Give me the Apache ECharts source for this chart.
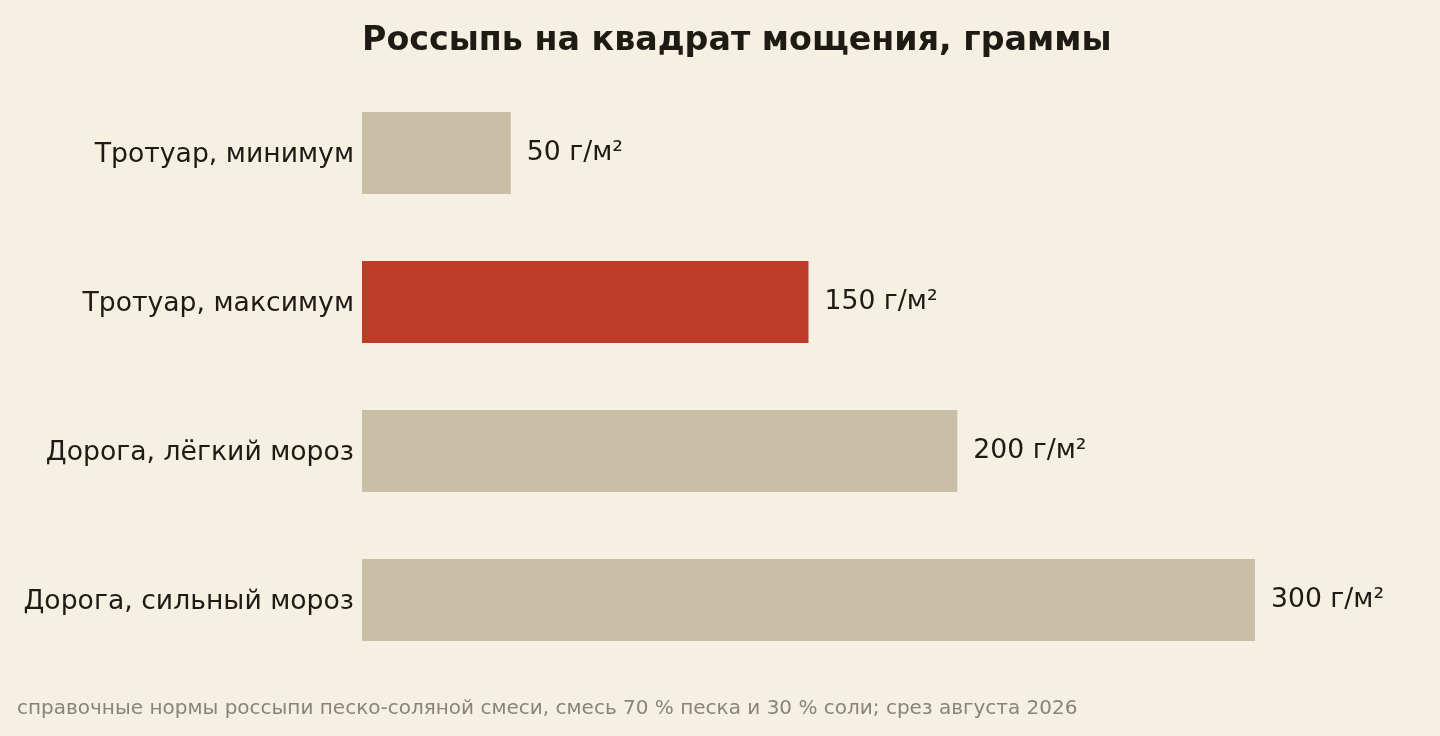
<!DOCTYPE html>
<html><head><meta charset="utf-8">
<script src="https://cdn.jsdelivr.net/npm/echarts@6/dist/echarts.min.js"></script>
<style>html,body{margin:0;padding:0;background:#f6f0e3;}#c{width:1440px;height:736px;}</style>
</head><body><div id="c"></div>
<script>
const categories = ["Тротуар, минимум", "Тротуар, максимум", "Дорога, лёгкий мороз", "Дорога, сильный мороз"];
const values = [50, 150, 200, 300];
const highlight = [false, true, false, false];
const unit = " г/м²";
const titleText = "Россыпь на квадрат мощения, граммы";
const footnote = "справочные нормы россыпи песко-соляной смеси, смесь 70 % песка и 30 % соли; срез августа 2026";

const chart = echarts.init(document.getElementById('c'));
chart.setOption({
  backgroundColor: '#f6f0e3',
  animation: false,
  title: [{
    text: titleText, left: 357, top: 20,
    textStyle: {fontFamily: 'DejaVu Sans', fontWeight: 'bold', fontSize: 33.3, color: '#1e1a14'}
  }, {
    text: footnote, left: 12, top: 694,
    textStyle: {fontFamily: 'DejaVu Sans', fontWeight: 'normal', fontSize: 20, color: '#8a8478'}
  }],
  grid: {left: 362, right: 185, top: 78.5, height: 596, containLabel: false},
  xAxis: {type: 'value', min: 0, max: 300, show: false},
  yAxis: {
    type: 'category', data: categories, inverse: true,
    axisLine: {show: false}, axisTick: {show: false}, splitLine: {show: false},
    axisLabel: {
      margin: 8,
      formatter: v => '{c|' + v + '}',
      rich: {c: {fontFamily: 'DejaVu Sans', fontSize: 26.67, color: '#1e1a14', padding: [5, 0, 0, 0]}}
    }
  },
  series: [{
    type: 'bar', barWidth: 82,
    data: values.map((v, i) => ({value: v, itemStyle: {color: highlight[i] ? '#bd3c27' : '#c9bfa7'}})),
    label: {
      show: true, position: 'right', distance: 16,
      formatter: p => p.value + unit,
      fontFamily: 'DejaVu Sans', fontSize: 26.67, color: '#1e1a14'
    }
  }]
});
</script></body></html>
